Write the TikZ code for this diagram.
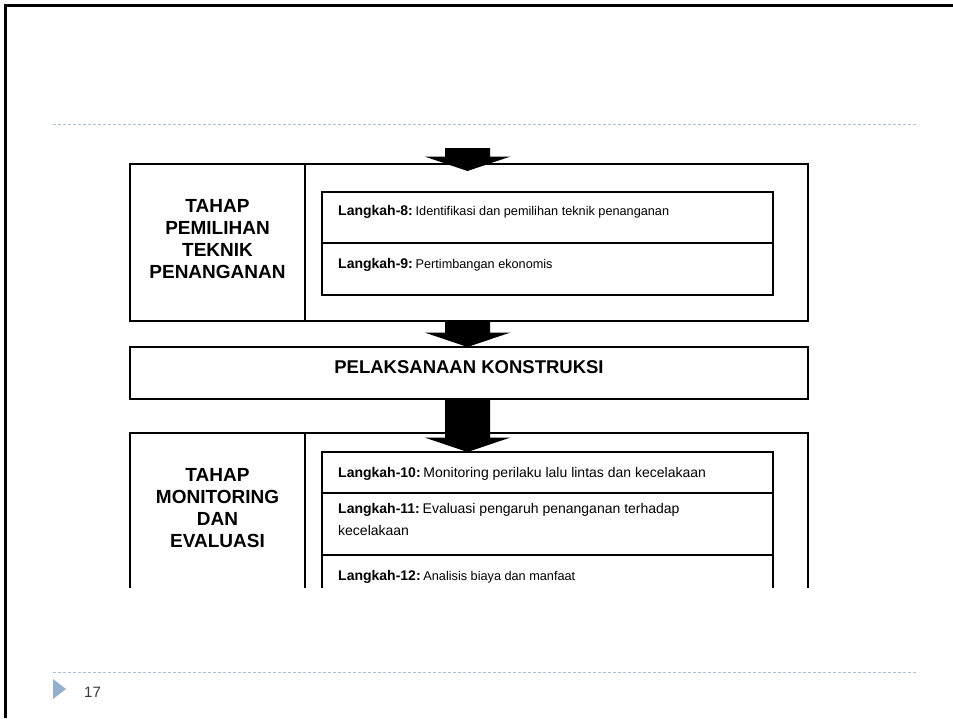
\documentclass[tikz,border=0pt]{standalone}
\usepackage{fontspec}
\setmainfont{Liberation Sans}
\usetikzlibrary{calc}
\definecolor{guideblue}{HTML}{A9C0D9}
\definecolor{trifill}{HTML}{94AFCB}
\definecolor{pagegray}{HTML}{3A3A3A}
\newcommand\Lk[1]{{\fontsize{14}{16}\selectfont\bfseries Langkah-#1:}\hspace{2.8pt}\ignorespaces}
\newcommand\BigArrow[2]{%
  \fill[arrowfill] let \p1=#1, \p2=#2 in
    (\x2-22.5pt,\y1) -- (\x2+22.5pt,\y1) -- (\x2+22.5pt,\y2+14.5pt) --
    (\x2+43pt,\y2+14.5pt) -- (\x2,\y2) -- (\x2-43pt,\y2+14.5pt) --
    (\x2-22.5pt,\y2+14.5pt) -- cycle;}
\begin{document}
\begin{tikzpicture}[x=1pt,y=-1pt,
  boxline/.style={draw=black, line width=1.1pt},
  blk/.style={boxline, rectangle, inner sep=0pt, outer sep=0pt},
  stage/.style={font=\fontsize{19}{22}\selectfont\bfseries, align=center, inner sep=0pt},
  steptext/.style={anchor=base west, inner sep=0pt, font=\fontsize{12.7}{15}\selectfont},
  steptextL/.style={anchor=base west, inner sep=0pt, font=\fontsize{14}{22}\selectfont},
  arrowfill/.style={fill=black},
  guide/.style={draw=guideblue, line width=1pt, dash pattern=on 3pt off 2pt}]
\useasboundingbox (0,0) rectangle (953,718);
\fill[white] (0,0) rectangle (953,718);

% slide frame and guides
\draw[line width=3pt] (5,718) -- (5,5) -- (953,5);
\draw[guide] (53,124) -- (918,124);
\draw[guide] (53,672) -- (918,672);
\fill[trifill] (53,679) -- (66,689) -- (53,699) -- cycle;
\node[anchor=base west, inner sep=0pt, font=\fontsize{15}{18}\selectfont, text=pagegray] (pg) at (84,697) {17};

\coordinate (axis) at (467.5,0);

% top block
\node[blk, minimum width=175pt, minimum height=157pt] (pl) at (217.5,242.5) {};
\node[blk, minimum width=503pt, minimum height=157pt] (ph) at (556.5,242.5) {};
\node[blk, minimum width=451pt, minimum height=51pt] (s8) at (547.5,217.5) {};
\node[blk, minimum width=451pt, minimum height=52pt] (s9) at (547.5,269) {};
\node[stage] (st1) at (217.5,239) {TAHAP\\PEMILIHAN\\TEKNIK\\PENANGANAN};
\node[steptext] (t8) at (338,215) {\Lk{8} Identifikasi dan pemilihan teknik penanganan};
\node[steptext] (t9) at (338,268) {\Lk{9} Pertimbangan ekonomis};

% construction box
\node[blk, minimum width=678pt, minimum height=52pt] (pel) at (469,373) {};
\node[inner sep=0pt, anchor=base, font=\fontsize{18.5}{20}\selectfont\bfseries] (pt) at (469,373.5) {PELAKSANAAN KONSTRUKSI};

% bottom block (cut off at the bottom)
\coordinate (bl) at (130,588);
\coordinate (btl) at (130,433);
\coordinate (btr) at (808,433);
\coordinate (br) at (808,588);
\coordinate (bmid) at (305,433);
\coordinate (itl) at (322,452);
\coordinate (itr) at (773,452);
\draw[boxline] (bl) -- (btl) -- (btr) -- (br);
\draw[boxline] (bmid) -- (bmid |- bl);
\draw[boxline] (itl |- bl) -- (itl) -- (itr) -- (itr |- bl);
\draw[boxline] (322,493) -- (773,493);
\draw[boxline] (322,555) -- (773,555);
\node[stage] (st2) at (217.5,508) {TAHAP\\MONITORING\\DAN\\EVALUASI};
\node[steptextL] (t10) at (338,477) {\Lk{10} Monitoring perilaku lalu lintas dan kecelakaan};
\node[steptextL, anchor=west, align=left] (t11) at (338,519) {\Lk{11} Evaluasi pengaruh penanganan terhadap\\kecelakaan};
\node[steptext] (t12) at (338,580) {\Lk{12} Analisis biaya dan manfaat};

% arrows
\coordinate (in1) at (467.5,148);
\BigArrow{(in1)}{($(axis |- ph.north)+(0,7)$)}
\BigArrow{(axis |- ph.south)}{(axis |- pel.north)}
\BigArrow{(axis |- pel.south)}{(axis |- itl)}
\end{tikzpicture}
\end{document}
